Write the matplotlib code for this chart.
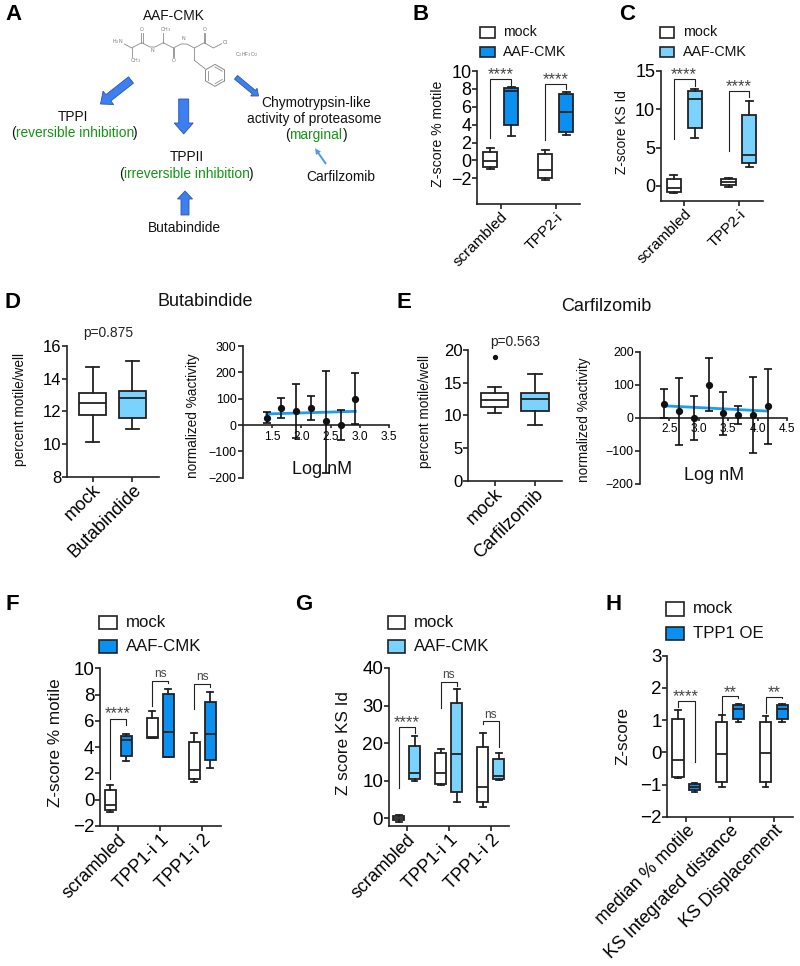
"""
Multi-panel figure: AAF-CMK scheme, Z-score box plots and dose-response panels
"""
import numpy as np
import matplotlib
matplotlib.use('Agg')
import matplotlib.pyplot as plt
from matplotlib.patches import FancyArrow, Rectangle

plt.rcParams['font.family'] = ['Liberation Sans', 'DejaVu Sans']

W, H = 800, 966
DARK = '#222222'
BLUE = '#0a90f0'
LIGHT = '#7ad2ff'
WHITE = '#ffffff'
GREEN = '#149414'
LINE_BLUE = '#1e9cf0'

# box stats are (whisker low, q1, median, q3, whisker high)
b_groups = ['scrambled', 'TPP2-i']
b_mock = [(-0.96, -0.7, -0.1, 0.98, 1.39), (-2.15, -2.0, -1.1, 0.68, 1.2)]
b_drug = [(2.77, 3.92, 7.73, 8.14, 8.25), (2.9, 3.2, 5.45, 7.47, 7.7)]
b_brackets = [(2.47, 9.14, 8.4, '****', 9.95), (2.3, 8.6, 7.95, '****', 9.35)]

c_groups = ['scrambled', 'TPP2-i']
c_mock = [(-0.95, -0.74, -0.3, 0.91, 1.43), (-0.17, 0.13, 0.56, 0.87, 1.04)]
c_drug = [(6.24, 7.5, 11.27, 12.3, 12.6), (2.5, 2.95, 3.99, 9.28, 11.05)]
c_brackets = [(6.07, 13.9, 13.0, '****', 14.9), (4.55, 12.4, 11.53, '****', 13.3)]

d_labels = ['mock', 'Butabindide']
d_boxes = [(10.14, 11.78, 12.49, 13.12, 14.71), (10.92, 11.61, 12.8, 13.27, 15.08)]
d_logx = [1.41, 1.66, 1.91, 2.17, 2.42, 2.67, 2.92]
d_act = [28, 65, 54, 63, 15, 0, 100]
d_top = [49, 104, 157, 110, 206, 56, 199]
d_bot = [9, 25, -49, 18, -183, -56, 2]
d_fit_x = [1.41, 2.92]
d_fit_y = [42, 52]

e_labels = ['mock', 'Carfilzomib']
e_boxes = [(10.3, 11.33, 12.3, 13.47, 14.39), (8.57, 10.66, 12.45, 13.47, 16.3)]
e_outlier = 19
e_logx = [2.41, 2.67, 2.92, 3.17, 3.42, 3.67, 3.92, 4.17]
e_act = [43, 20, 0, 99, 13, 7, 7, 34]
e_top = [88, 121, 66, 180, 79, 35, 122, 149]
e_bot = [0, -82, -67, 20, -53, -19, -107, -80]
e_fit_x = [2.41, 4.17]
e_fit_y = [36, 20]

f_groups = ['scrambled', 'TPP1-i 1', 'TPP1-i 2']
f_mock = [(-0.91, -0.78, -0.4, 0.72, 1.1), (4.7, 4.73, 4.76, 6.2, 6.76), (1.38, 1.58, 2.24, 4.4, 5.1)]
f_drug = [(2.97, 3.33, 4.52, 4.88, 4.98), (3.28, 3.28, 5.18, 8.03, 8.4), (2.44, 3.05, 5.03, 7.47, 8.2)]
f_brackets = [(1.55, 6.17, 5.69, '****', 6.75), (7.16, 9.07, 8.86, 'ns', 9.58), (6.88, 8.79, 8.6, 'ns', 9.33)]

g_groups = ['scrambled', 'TPP1-i 1', 'TPP1-i 2']
g_mock = [(-1.06, -0.5, 0.1, 0.7, 0.89), (8.78, 9.14, 12.2, 17.4, 18.36), (2.93, 4.35, 8.34, 19.07, 22.6)]
g_drug = [(9.93, 10.55, 12.15, 19.3, 21.9), (4.43, 7.1, 17.1, 30.7, 34.5), (10.1, 10.38, 11.35, 15.8, 17.3)]
g_brackets = [(8.16, 24.3, 22.8, '****', 26.3), (29.5, 36.2, 35.3, 'ns', 38.2), (25, 25.8, 19.07, 'ns', 27.6)]

h_groups = ['median % motile', 'KS Integrated distance', 'KS Displacement']
h_mock = [(-0.8, -0.77, -0.25, 1.02, 1.31), (-1.08, -0.92, -0.04, 0.95, 1.15), (-1.08, -0.92, -0.03, 0.95, 1.13)]
h_drug = [(-1.23, -1.17, -1.09, -0.98, -0.94), (0.94, 1.04, 1.36, 1.47, 1.49), (0.94, 1.04, 1.36, 1.47, 1.49)]
h_brackets = [(1.42, 1.59, -0.29, '****', 1.82), (1.23, 1.74, 1.69, '**', 1.93), (1.23, 1.73, 1.68, '**', 1.93)]

# skeleton of the AAF-CMK molecule, in crop pixels of the scheme
chain = [(58, 66), (80, 78), (110, 62), (135, 75), (150, 75), (175, 62), (205, 78), (228, 66),
         (245, 66), (268, 78), (298, 62), (325, 78), (350, 65)]
branches = [[(80, 78), (80, 105)], [(109, 62), (109, 32)], [(113, 62), (113, 32)],
            [(175, 62), (175, 32)], [(203, 78), (203, 106)], [(207, 78), (207, 106)],
            [(296, 62), (296, 32)], [(300, 62), (300, 32)], [(268, 78), (268, 115)],
            [(268, 115), (300, 140)]]

fig = plt.figure(figsize=(W / 100, H / 100), dpi=100)


def make_axes(left, top, right, bottom):
    ax = fig.add_axes([left / W, 1 - bottom / H, (right - left) / W, (bottom - top) / H])
    for side in ['top', 'right']:
        ax.spines[side].set_visible(False)
    for side in ['left', 'bottom']:
        ax.spines[side].set_linewidth(1.2)
        ax.spines[side].set_color(DARK)
    ax.patch.set_alpha(0)
    return ax


def draw_boxes(ax, stats, positions, width, color, lw=1.3):
    rows = [dict(whislo=s[0], q1=s[1], med=s[2], q3=s[3], whishi=s[4], fliers=[]) for s in stats]
    line = dict(color=DARK, linewidth=lw)
    ax.bxp(rows, positions=positions, widths=width, patch_artist=True, manage_ticks=False,
           boxprops=dict(facecolor=color, edgecolor=DARK, linewidth=lw),
           medianprops=line, whiskerprops=line, capprops=line, capwidths=width * 0.5,
           showfliers=False)


def grouped(rect, groups, mock, drug, brackets, color, ylim, yticks, tick_fs, label_fs, star_fs=12):
    ax = make_axes(*rect)
    n = len(groups)
    pos = np.arange(n)
    draw_boxes(ax, mock, pos - 0.19, 0.26, WHITE)
    draw_boxes(ax, drug, pos + 0.19, 0.26, color)
    ax.set_xlim(-0.43, n - 1 + 0.44)
    ax.set_ylim(*ylim)
    ax.set_yticks(yticks)
    ax.set_xticks(pos)
    ax.set_xticklabels(groups, rotation=45, ha='right', rotation_mode='anchor', fontsize=label_fs)
    ax.tick_params(axis='y', labelsize=tick_fs, length=3.5, width=1.2, pad=0.5, color=DARK)
    ax.tick_params(axis='x', length=3.5, width=1.2, pad=0.5, color=DARK)
    for i, (left_y, top_y, right_y, label, label_y) in enumerate(brackets):
        ax.plot([i - 0.19, i - 0.19, i + 0.19, i + 0.19], [left_y, top_y, top_y, right_y],
                color=DARK, lw=0.8, clip_on=False)
        # asterisks sit high in the glyph box, so drop them a little
        is_star = '*' in label
        ax.annotate(label, (i, label_y), xytext=(0, -2 if is_star else 0), textcoords='offset points',
                    ha='center', va='center', color='#444444', annotation_clip=False,
                    fontsize=star_fs if is_star else 8.6)
    return ax


def two_box(rect, labels, boxes, ylim, yticks):
    ax = make_axes(*rect)
    draw_boxes(ax, boxes[:1], [0], 0.675, WHITE)
    draw_boxes(ax, boxes[1:], [1], 0.675, LIGHT)
    ax.set_xlim(-0.65, 1.66)
    ax.set_ylim(*ylim)
    ax.set_yticks(yticks)
    ax.set_xticks([0, 1])
    ax.set_xticklabels(labels, rotation=45, ha='right', rotation_mode='anchor', fontsize=13)
    ax.tick_params(axis='y', labelsize=12, length=3.5, width=1.2, pad=0.5, color=DARK)
    ax.tick_params(axis='x', length=3.5, width=1.2, pad=0, color=DARK)
    return ax


def dose(rect, logx, act, top, bot, fit_x, fit_y, xlim, xticks, ylim, yticks):
    ax = make_axes(*rect)
    ax.spines['bottom'].set_position(('data', 0))
    ax.plot(fit_x, fit_y, color=LINE_BLUE, lw=2, zorder=2)
    logx = np.array(logx)
    act = np.array(act)
    err = [act - np.array(bot), np.array(top) - act]
    ax.errorbar(logx, act, yerr=err, fmt='o', color='#111111', ms=4.2, lw=1.2, capsize=3.2,
                capthick=1.2, clip_on=False, zorder=3)
    ax.set_xlim(*xlim)
    ax.set_ylim(*ylim)
    ax.set_xticks(xticks)
    ax.set_xticklabels([f'{t:.1f}' for t in xticks])
    ax.set_yticks(yticks)
    ax.tick_params(axis='y', labelsize=8.9, length=3.5, width=1.2, pad=1, color=DARK)
    ax.tick_params(axis='x', labelsize=8.6, length=2.5, width=1.2, pad=1.5, color=DARK)
    return ax


# panels B and C
grouped((477, 71, 580, 204.3), b_groups, b_mock, b_drug, b_brackets, BLUE, (-4.9, 10),
        [-2, 0, 2, 4, 6, 8, 10], 13, 11)
grouped((660.7, 70.7, 763, 201.3), c_groups, c_mock, c_drug, c_brackets, LIGHT, (-2, 15),
        [0, 5, 10, 15], 13, 11)

# panels D and E
two_box((66.7, 346, 158.7, 476.7), d_labels, d_boxes, (8, 16), [8, 10, 12, 14, 16])
dose((242.7, 346, 389.3, 477.7), d_logx, d_act, d_top, d_bot, d_fit_x, d_fit_y, (1, 3.5),
     [1.5, 2.0, 2.5, 3.0, 3.5], (-200, 300), [-200, -100, 0, 100, 200, 300])

ax_e = two_box((468.3, 350, 561.7, 480.7), e_labels, e_boxes, (0, 20), [0, 5, 10, 15, 20])
ax_e.plot([0], [e_outlier], 'o', color='#111111', ms=2.8, clip_on=False)
dose((640, 351.7, 787, 483.7), e_logx, e_act, e_top, e_bot, e_fit_x, e_fit_y, (2, 4.5),
     [2.5, 3.0, 3.5, 4.0, 4.5], (-200, 200), [-200, -100, 0, 100, 200])

# panels F, G, H
grouped((100, 668.3, 220.7, 826), f_groups, f_mock, f_drug, f_brackets, BLUE, (-2, 10),
        [-2, 0, 2, 4, 6, 8, 10], 13.5, 12.9)
grouped((388.7, 668, 509.3, 826), g_groups, g_mock, g_drug, g_brackets, LIGHT, (-2, 40),
        [0, 10, 20, 30, 40], 13.5, 12.9)
grouped((667.3, 655.7, 793.3, 816.7), h_groups, h_mock, h_drug, h_brackets, BLUE, (-2, 3),
        [-2, -1, 0, 1, 2, 3], 13.5, 12.9)

# everything placed by pixel: scheme, legends, titles, panel letters
ov = fig.add_axes([0, 0, 1, 1], zorder=10)
ov.set_xlim(0, W)
ov.set_ylim(H, 0)
ov.axis('off')
ov.patch.set_alpha(0)


def txt(x, y, s, fs=9.9, color='#111111', ha='center', **kw):
    ov.text(x, y, s, fontsize=fs, color=color, ha=ha, va='center', **kw)


for letter, x, y in [('A', 13, 14), ('B', 421, 14), ('C', 627, 14), ('D', 13, 302), ('E', 404, 302),
                     ('F', 12, 605), ('G', 304, 605), ('H', 614, 605)]:
    txt(x, y, letter, fs=16, color='#000000', fontweight='bold')

for x, y, s, rotation, fs in [(438, 134, 'Z-score % motile', 90, 10.2), (621.7, 132.3, 'Z-score KS Id', 90, 9.9),
                              (20, 410, 'percent motile/well', 90, 9.8), (192.7, 415.7, 'normalized %activity', 90, 9.8),
                              (425, 411.7, 'percent motile/well', 90, 9.8), (584, 420, 'normalized %activity', 90, 9.8),
                              (55, 742.3, 'Z-score % motile', 90, 12.3), (343.3, 743, 'Z score KS Id', 90, 12.3),
                              (623, 735.7, 'Z-score', 90, 12.3)]:
    txt(x, y, s, fs=fs, rotation=rotation)

txt(205, 302, 'Butabindide', fs=13)
txt(606, 306.7, 'Carfilzomib', fs=13)
txt(108, 333, 'p=0.875', fs=9.9, color='#222222')
txt(515, 341.7, 'p=0.563', fs=9.9, color='#222222')
txt(321.7, 470, 'Log nM', fs=13)
txt(714, 475, 'Log nM', fs=13)


def legend(x0, x1, y0, y1, y2, y3, tx, ty0, ty1, name, color, fs):
    ov.add_patch(Rectangle((x0, y0), x1 - x0, y1 - y0, fc=WHITE, ec=DARK, lw=1.2))
    ov.add_patch(Rectangle((x0, y2), x1 - x0, y3 - y2, fc=color, ec=DARK, lw=1.2))
    txt(tx, ty0, 'mock', fs=fs, ha='left')
    txt(tx, ty1, name, fs=fs, ha='left')


legend(480, 495, 26.7, 37.7, 46.7, 57.3, 502.7, 32.3, 51.7, 'AAF-CMK', BLUE, 10.2)
legend(660, 674.3, 26.7, 37.7, 46.7, 57.3, 682.7, 32.3, 51.7, 'AAF-CMK', LIGHT, 10.3)
legend(99.3, 116.7, 616, 629.3, 640, 652.7, 126, 622.7, 646.7, 'AAF-CMK', BLUE, 12.1)
legend(387.7, 405, 616, 629.3, 640, 652.7, 414, 622.7, 646.7, 'AAF-CMK', LIGHT, 12.1)
legend(666, 684, 602.3, 615.7, 626.7, 640, 693.3, 608.7, 633.3, 'TPP1 OE', BLUE, 12.1)

# scheme, panel A
txt(174, 16, 'AAF-CMK')
txt(73, 116.7, 'TPPI')
txt(11, 132.7, '(', ha='left')
txt(15.7, 132.7, 'reversible inhibition', color=GREEN, ha='left')
txt(132.8, 132.7, ')', ha='left')
txt(186.7, 156.7, 'TPPII')
txt(119.5, 174, '(', ha='left')
txt(124, 174, 'irreversible inhibition', color=GREEN, ha='left')
txt(249.3, 174, ')', ha='left')
txt(184, 228.3, 'Butabindide')
txt(315.7, 102.7, 'Chymotrypsin-like')
txt(314, 119, 'activity of proteasome')
txt(285, 135, '(', ha='left')
txt(289, 135, 'marginal', color=GREEN, ha='left')
txt(342.5, 135, ')', ha='left')
txt(340.7, 177.3, 'Carfilzomib')

GREY = '#8a8a8a'
to_px = lambda pts: (105 + np.array(pts)[:, 0] / 3, 22 + np.array(pts)[:, 1] / 3)
ov.plot(*to_px(chain), color=GREY, lw=0.6)
for seg in branches:
    ov.plot(*to_px(seg), color=GREY, lw=0.6)
angles = np.deg2rad(np.arange(30, 391, 60))
ring = np.column_stack([330 + 33 * np.cos(angles), 160 + 33 * np.sin(angles)])
ov.plot(*to_px(ring), color=GREY, lw=0.7)
inner = np.column_stack([330 + 25 * np.cos(angles), 160 + 25 * np.sin(angles)])
for i in [0, 2, 4]:
    ov.plot(*to_px(inner[i:i + 2]), color=GREY, lw=0.6)
for zx, zy, s in [(38, 60, 'H$_2$N'), (93, 115, 'CH$_3$'), (110, 22, 'O'), (143, 87, 'N'), (183, 22, 'CH$_3$'),
                  (205, 114, 'O'), (235, 48, 'N'), (298, 22, 'O'), (360, 60, 'Cl'), (425, 98, 'C$_2$HF$_3$O$_2$')]:
    txt(105 + zx / 3, 22 + zy / 3, s, fs=3.6, color='#777777')

arrow_blue = '#3d7ff0'
arrow_edge = '#2b55a8'
for x0, y0, x1, y1, width, head_w, head_l in [(131, 80, 100.5, 104, 8, 17, 10), (183.7, 99, 183.7, 134, 10, 19, 11),
                                              (236, 77.3, 258.5, 96, 4.7, 10, 6), (185, 215, 185, 191, 8, 15, 8)]:
    ov.add_patch(FancyArrow(x0, y0, x1 - x0, y1 - y0, width=width, head_width=head_w, head_length=head_l,
                            length_includes_head=True, fc=arrow_blue, ec=arrow_edge, lw=0.6))
ov.add_patch(FancyArrow(326, 164, -11, -15.7, width=2, head_width=6, head_length=6,
                        length_includes_head=True, fc='#4f9be8', ec='none'))

fig.savefig('out.png', dpi=100)
plt.close(fig)
